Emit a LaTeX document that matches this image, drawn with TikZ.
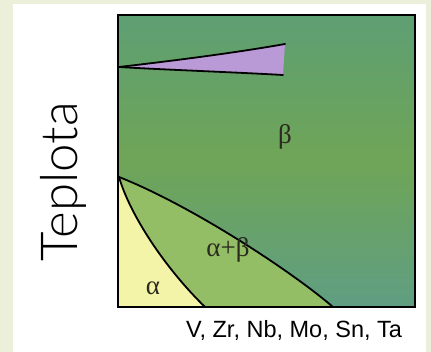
\documentclass[tikz,border=0pt]{standalone}
\usepackage{fontspec}
\setmainfont{Liberation Sans}
\newfontfamily\serifgr{Liberation Serif}
\newfontfamily\thinfont{Lato Light}
\definecolor{outerbg}{HTML}{ECEFD9}
\definecolor{gtop}{HTML}{5E9F73}
\definecolor{gmid}{HTML}{6FA557}
\definecolor{gbot}{HTML}{5F9E82}
\definecolor{alphacol}{HTML}{F4F4A8}
\definecolor{abcol}{HTML}{94BE66}
\definecolor{purp}{HTML}{BA9AD6}
\definecolor{labcol}{HTML}{2A2A1E}
\tikzset{
  bound/.style={line width=1.8pt, black, line cap=round},
  phase/.style={font=\serifgr\fontsize{27}{27}\selectfont, text=labcol, inner sep=0pt},
}
\begin{document}
\begin{tikzpicture}[x=1pt,y=-1pt]
\useasboundingbox (0,0) rectangle (431,352);
\fill[outerbg] (0,0) rectangle (431,352);
\fill[white] (13,4) rectangle (426,352);
% box background
\coordinate (TL) at (118,15);
\coordinate (BR) at (415,307);
\shade[top color=gtop, bottom color=gbot, middle color=gmid] (TL) rectangle (BR);
% alpha+beta region
\coordinate (P) at (119,177);
\coordinate (A) at (205,307);
\coordinate (B) at (333,307);
\fill[abcol] (P) .. controls (190,205) and (290,270) .. (B) -- (A) .. controls (165,268) and (130,215) .. (P) -- cycle;
% alpha region
\fill[alphacol] (P) .. controls (130,215) and (165,268) .. (A) -- (119,307) -- cycle;
\draw[bound] (P) .. controls (130,215) and (165,268) .. (A);
\draw[bound] (P) .. controls (190,205) and (290,270) .. (B);
% purple wedge
\coordinate (W) at (119,67);
\coordinate (WU) at (285,44);
\coordinate (WL) at (283,75);
\fill[purp] (W) .. controls (180,60) and (240,52) .. (WU) -- (WL) .. controls (230,72) and (170,70) .. (W) -- cycle;
\draw[bound] (W) .. controls (180,60) and (240,52) .. (WU);
\draw[bound] (W) .. controls (170,70) and (230,72) .. (WL);
% frame
\draw[line width=1.8pt] (TL) rectangle (BR);
% labels
\node[phase] (beta) at (285,137) {β};
\node[phase] (ab) at (228,250) {α+β};
\node[phase] (al) at (153,288) {α};
\node[font=\fontsize{23.5}{23.5}\selectfont, inner sep=0pt, anchor=base] (xl) at (294,338) {V, Zr, Nb, Mo, Sn, Ta};
\node[font=\thinfont\fontsize{51}{51}\selectfont, rotate=90, inner sep=0pt, anchor=base] (yl) at (77,182) {Teplota};
\end{tikzpicture}
\end{document}
